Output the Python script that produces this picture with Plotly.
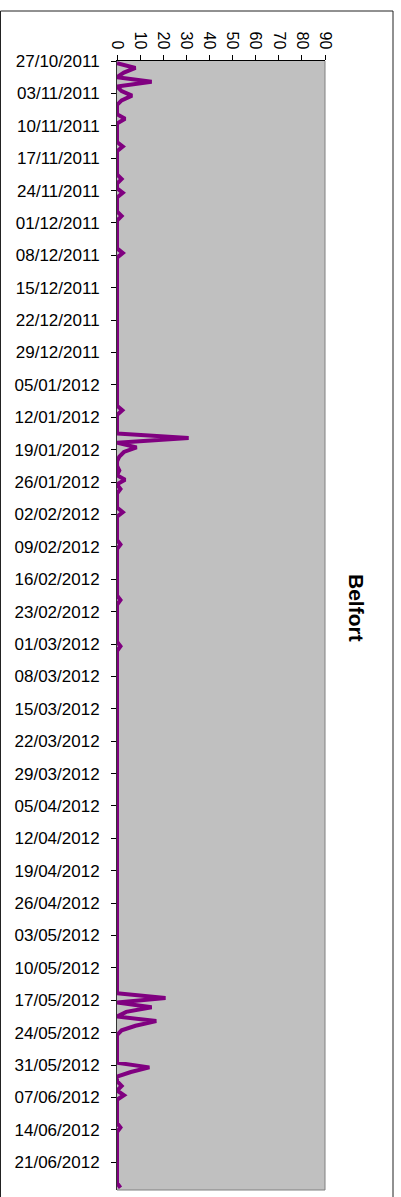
import pandas as pd
import plotly.graph_objects as go

# Daily measurements for Belfort, one value per day from 27/10/2011 to 26/06/2012
start_date = "2011-10-27"
end_date = "2012-06-26"
station = "Belfort"

# values grouped by week (7 days per row)
values = [
    0, 8, 3, 0, 15, 0, 2,
    6.5, 2, 0, 0, 0, 3.5, 0,
    0, 0, 0, 0, 2.5, 0, 0,
    0, 0, 0, 0, 2, 0, 0,
    2.5, 0, 0, 0, 0, 2, 0,
    0, 0, 0, 0, 0, 0, 2.5,
    0, 0, 0, 0, 0, 0, 0,
    0, 0, 0, 0, 0, 0, 0,
    0, 0, 0, 0, 0, 0, 0,
    0, 0, 0, 0, 0, 0, 0,
    0, 0, 0, 0, 0, 2.3, 0,
    0, 0, 0, 0, 31, 0, 8.5,
    3, 1, 0, 0, 1, 0, 3.5,
    0, 1.5, 0, 0, 0, 0, 2.5,
    0, 0, 0, 0, 0, 0, 1.5,
    0, 0, 0, 0, 0, 0, 0,
    0, 0, 0, 0, 1.5, 0, 0,
    0, 0, 0, 0, 0, 0, 0,
    1.5, 0, 0, 0, 0, 0, 0,
    0, 0, 0, 0, 0, 0, 0,
    0, 0, 0, 0, 0, 0, 0,
    0, 0, 0, 0, 0, 0, 0,
    0, 0, 0, 0, 0, 0, 0,
    0, 0, 0, 0, 0, 0, 0,
    0, 0, 0, 0, 0, 0, 0,
    0, 0, 0, 0, 0, 0, 0,
    0, 0, 0, 0, 0, 0, 0,
    0, 0, 0, 0, 0, 0, 0,
    0, 0, 0, 0, 0, 0, 21,
    0, 15, 4, 0, 17, 8, 2,
    0, 0, 0, 0, 0, 0, 0,
    14, 6, 0, 0, 2, 0, 3,
    0, 0, 0, 0, 0, 0, 1.5,
    0, 0, 0, 0, 0, 0, 0,
    0, 0, 0, 0, 0, 1.5,
]

value_ticks = [0, 10, 20, 30, 40, 50, 60, 70, 80, 90]

dates = pd.date_range(start_date, end_date, freq="D")
# each day is drawn in the middle of its own band on the date axis
centers = dates + pd.Timedelta(hours=12)
week_ticks = pd.date_range(start_date, end_date, freq="7D")

FONT = "Arial, Liberation Sans, sans-serif"

fig = go.Figure(
    go.Scatter(
        x=values,
        y=centers,
        mode="lines",
        line=dict(color="#800080", width=4),
        hoverinfo="skip",
    )
)

fig.update_layout(
    width=401,
    height=1197,
    margin=dict(l=117, r=76, t=61, b=7),
    paper_bgcolor="white",
    plot_bgcolor="#C0C0C0",
    showlegend=False,
    font=dict(family=FONT, size=16, color="black"),
    xaxis=dict(
        side="top",
        range=[0, 90],
        tickvals=value_ticks,
        ticktext=[str(v) for v in value_ticks],
        tickangle=90,
        ticks="outside",
        ticklen=5,
        tickcolor="black",
        showline=True,
        linecolor="black",
        linewidth=1,
        showgrid=False,
        zeroline=False,
        tickfont=dict(family=FONT, size=16),
    ),
    yaxis=dict(
        type="date",
        range=[dates[-1] + pd.Timedelta(days=1), dates[0]],
        tickvals=week_ticks,
        ticktext=[d.strftime("%d/%m/%Y") for d in week_ticks],
        ticks="outside",
        ticklen=5,
        tickcolor="black",
        ticklabelstandoff=8,
        showline=True,
        linecolor="#333333",
        linewidth=1,
        showgrid=False,
        zeroline=False,
        tickfont=dict(family=FONT, size=17),
    ),
    shapes=[
        # plot area border (right and bottom edges)
        dict(type="line", xref="paper", yref="paper", x0=1, x1=1, y0=0, y1=1,
             line=dict(color="#808080", width=1)),
        dict(type="line", xref="paper", yref="paper", x0=0, x1=1, y0=0, y1=0,
             line=dict(color="#808080", width=1)),
        # chart area frame
        dict(type="rect", xref="paper", yref="paper",
             x0=(0.5 - 117) / 208, x1=(393 - 117) / 208,
             y0=-0.05, y1=(1190 - 11) / 1129,
             line=dict(color="#222222", width=1)),
    ],
    annotations=[
        dict(
            text=f"<b>{station}</b>",
            xref="paper", yref="paper",
            x=(357 - 117) / 208, y=(1190 - 608) / 1129,
            xanchor="center", yanchor="middle",
            textangle=90,
            showarrow=False,
            font=dict(family=FONT, size=21, color="black"),
        )
    ],
)

fig.write_html("out.html")
